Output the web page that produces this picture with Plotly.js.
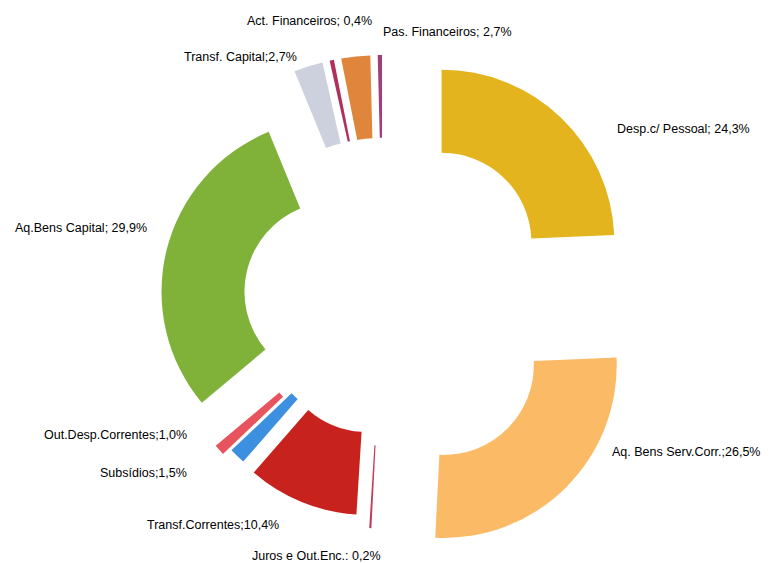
<!DOCTYPE html>
<html>
<head>
<meta charset="utf-8">
<script src="https://cdn.plot.ly/plotly-3.0.1.min.js"></script>
<style>html,body{margin:0;padding:0;background:#fff;overflow:hidden}#chart{width:770px;height:563px}</style>
</head>
<body>
<div id="chart"></div>
<script>
// Data; the last, unlabelled sliver is the remaining 0,4%
var categories = ["Desp.c/ Pessoal", "Aq. Bens Serv.Corr.", "Juros e Out.Enc.", "Transf. Correntes", "Subsídios", "Out.Desp.Correntes", "Aq.Bens Capital", "Transf. Capital", "Act. Financeiros", "Pas. Financeiros", "(outros)"];
var shares = [24.3, 26.5, 0.2, 10.4, 1.5, 1.0, 29.9, 2.7, 0.4, 2.7, 0.4];
var labelTexts = ["Desp.c/ Pessoal; 24,3%", "Aq. Bens Serv.Corr.;26,5%", "Juros e Out.Enc.: 0,2%", "Transf.Correntes;10,4%", "Subsídios;1,5%", "Out.Desp.Correntes;1,0%", "Aq.Bens Capital; 29,9%", "Transf. Capital;2,7%", "Act. Financeiros; 0,4%", "Pas. Financeiros; 2,7%", ""];

// Styles
var colors = ["#e4b41e", "#fbbb66", "#c23a5a", "#c8221e", "#3d8fe0", "#e8545e", "#80b23a", "#cdd1dd", "#b0305c", "#e0863c", "#a04078"];
var pulls = [0.49, 0.5, 0.3, 0.24, 0.22, 0.27, 0.29, 0.44, 0.44, 0.44, 0.44];
var labelPos = [[615, 129], [610, 452], [250, 556], [145, 525], [98, 473], [42, 435], [13, 228], [182, 57], [245, 21], [381, 32], [0, 0]];

var W = 770, H = 563;
var annotations = [];
labelTexts.forEach(function (t, i) {
  if (!t) return;
  annotations.push({
    text: t, xref: "paper", yref: "paper",
    x: labelPos[i][0] / W, y: 1 - labelPos[i][1] / H,
    xanchor: "left", yanchor: "middle", showarrow: false,
    font: {family: "Liberation Sans, Arial, sans-serif", size: 12.5, color: "#000"}
  });
});

var trace = {
  type: "pie",
  labels: categories,
  values: shares,
  sort: false,
  direction: "clockwise",
  rotation: 0,
  hole: 0.52,
  pull: pulls,
  textinfo: "none",
  marker: {colors: colors, line: {width: 0}},
  domain: {x: [(383 - 259.3) / 770, (383 + 259.3) / 770], y: [0, 518.5 / 563]},
  showlegend: false
};

Plotly.newPlot("chart", [trace], {
  width: W, height: H,
  margin: {l: 0, r: 0, t: 0, b: 0},
  paper_bgcolor: "#fff",
  showlegend: false,
  annotations: annotations
}, {staticPlot: true});
</script>
</body>
</html>
